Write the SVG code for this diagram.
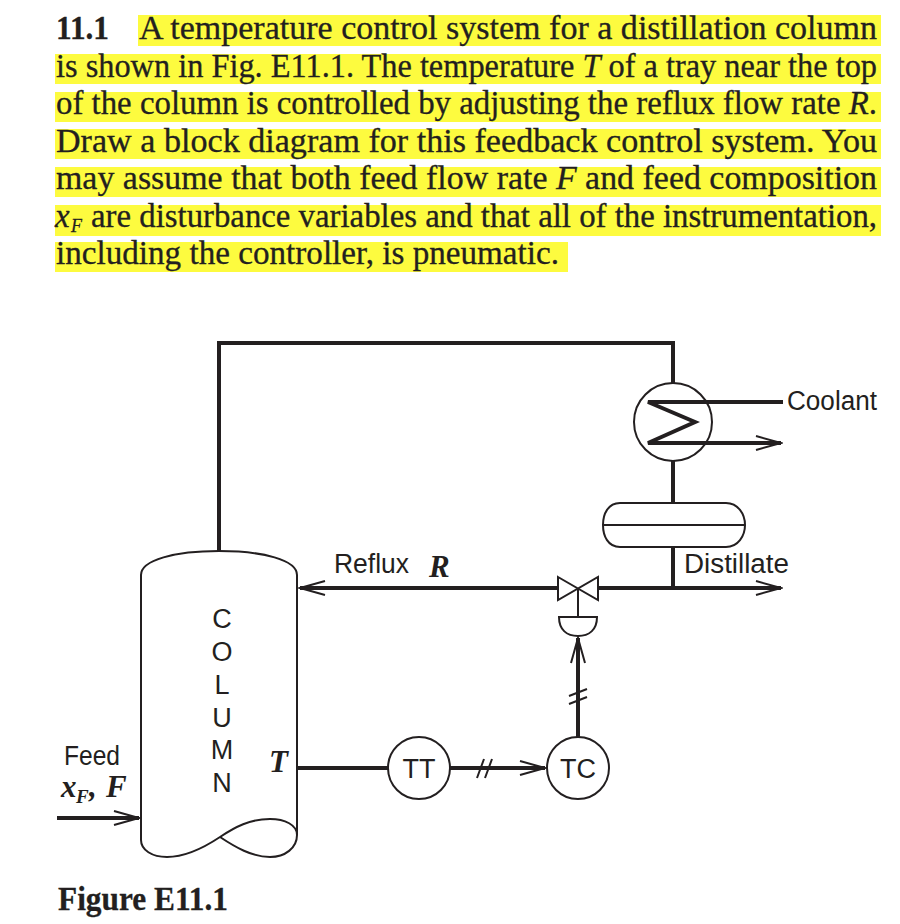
<svg xmlns="http://www.w3.org/2000/svg" width="900" height="924" viewBox="0 0 900 924">
<style>
.b{font-family:"Liberation Serif",serif;font-size:33px;fill:#231f20;stroke:#231f20;stroke-width:.3}
.i{font-style:italic}
.s{font-family:"Liberation Sans",sans-serif;font-size:27px;fill:#231f20}
.m{font-family:"Liberation Serif",serif;font-style:italic;font-weight:bold;font-size:31px;fill:#231f20}
.t{fill:none;stroke:#231f20;stroke-width:4}
.n{fill:#fff;stroke:#231f20;stroke-width:2}
.h{fill:none;stroke:#231f20;stroke-width:2}
.y{fill:#fdfb3f}
</style>
<defs>
<marker id="a" markerUnits="userSpaceOnUse" markerWidth="28" markerHeight="20" refX="26" refY="10" orient="auto"><path d="M1 3L26 10L1 17" fill="none" stroke="#231f20" stroke-width="2"/></marker>
</defs>
<rect width="900" height="924" fill="#fff"/>
<g id="problem">
<rect class="y" x="138" y="15" width="743" height="31"/>
<rect class="y" x="55" y="54" width="826" height="30"/>
<rect class="y" x="55" y="92" width="826" height="30"/>
<rect class="y" x="55" y="129" width="826" height="30"/>
<rect class="y" x="55" y="167" width="826" height="30"/>
<rect class="y" x="55" y="205" width="826" height="31"/>
<rect class="y" x="55" y="242" width="513" height="30"/>
<text class="b" x="56" y="39" font-weight="bold" textLength="53" lengthAdjust="spacingAndGlyphs">11.1</text>
<text class="b" x="139" y="39" textLength="738" lengthAdjust="spacingAndGlyphs">A temperature control system for a distillation column</text>
<text class="b" x="56" y="77" textLength="821" lengthAdjust="spacingAndGlyphs">is shown in Fig. E11.1. The temperature <tspan class="i">T</tspan> of a tray near the top</text>
<text class="b" x="56" y="114" textLength="821" lengthAdjust="spacingAndGlyphs">of the column is controlled by adjusting the reflux flow rate <tspan class="i">R</tspan>.</text>
<text class="b" x="56" y="152" textLength="821" lengthAdjust="spacingAndGlyphs">Draw a block diagram for this feedback control system. You</text>
<text class="b" x="56" y="189" textLength="821" lengthAdjust="spacingAndGlyphs">may assume that both feed flow rate <tspan class="i">F</tspan> and feed composition</text>
<text class="b i" x="55" y="227">x</text><text class="b i" x="71" y="232" style="font-size:18px">F</text>
<text class="b" x="91" y="227" textLength="786" lengthAdjust="spacingAndGlyphs">are disturbance variables and that all of the instrumentation,</text>
<text class="b" x="56" y="264" textLength="503" lengthAdjust="spacingAndGlyphs">including the controller, is pneumatic.</text>
</g>
<g id="connectors">
<path class="t" d="M219 552V343H673V384"/>
<path class="t" d="M673 461V503"/>
<path class="t" d="M673 547V588"/>
<path class="t" d="M783 402H648L695 422L648 443H781" marker-end="url(#a)"/>
<path class="t" d="M599 588H781" marker-end="url(#a)"/>
<path class="t" d="M557 588H300" marker-end="url(#a)"/>
<path class="t" d="M57 818H139" marker-end="url(#a)"/>
<path class="t" d="M297 768H388"/>
<path class="t" d="M450 768H545" marker-end="url(#a)"/>
<path class="t" d="M578 737V638" marker-end="url(#a)"/>
<path class="h" d="M477 778L484 759M485 778L492 759"/>
<path class="h" d="M569 696L587 689M569 704L587 697"/>
<path class="h" d="M578 588V617"/>
</g>
<g id="column">
<path class="n" d="M141 575C141 560 175 551 219 551C263 551 297 560 297 575V835C297 825 285 819 270 819C250 819 235 827 220 837C205 847 187 857 167 857C152 857 141 850 141 840Z"/>
<path class="h" d="M220 837C235 847 252 857 270 857C285 857 297 848 297 835"/>
<text class="s" text-anchor="middle" x="222" y="628">C</text>
<text class="s" text-anchor="middle" x="222" y="661">O</text>
<text class="s" text-anchor="middle" x="222" y="694">L</text>
<text class="s" text-anchor="middle" x="222" y="727">U</text>
<text class="s" text-anchor="middle" x="222" y="759">M</text>
<text class="s" text-anchor="middle" x="222" y="792">N</text>
<text class="m" x="269" y="772">T</text>
</g>
<g id="condenser">
<circle cx="673" cy="422" r="39" fill="none" stroke="#231f20" stroke-width="2"/>
</g>
<g id="drum">
<path class="n" d="M620 503H726C738 503 745 514 745 525C745 536 738 547 726 547H620C608 547 603 536 603 525C603 514 608 503 620 503Z"/>
<path class="h" d="M604 525H744"/>
</g>
<g id="valve">
<path class="n" d="M558 577L598 600V577L558 600Z"/>
<path class="n" d="M559 617H597C597 630 589 636 578 636C567 636 559 630 559 617Z"/>
</g>
<g id="TT"><circle class="n" cx="419" cy="768" r="31"/><text class="s" text-anchor="middle" x="419" y="778">TT</text></g>
<g id="TC"><circle class="n" cx="578" cy="768" r="31"/><text class="s" text-anchor="middle" x="578" y="778">TC</text></g>
<g id="labels">
<text class="s" x="787" y="410" textLength="90" lengthAdjust="spacingAndGlyphs">Coolant</text>
<text class="s" x="684" y="573" textLength="105" lengthAdjust="spacingAndGlyphs">Distillate</text>
<text class="s" x="334" y="573" textLength="75" lengthAdjust="spacingAndGlyphs">Reflux</text>
<text class="m" x="429" y="577">R</text>
<text class="s" x="64" y="765" textLength="56" lengthAdjust="spacingAndGlyphs">Feed</text>
<text class="m" x="61" y="797">x</text><text class="m" x="76" y="803" style="font-size:19px">F</text><text class="m" x="89" y="797">,</text><text class="m" x="106" y="797">F</text>
<text class="b" x="58" y="910" font-weight="bold" textLength="170" lengthAdjust="spacingAndGlyphs">Figure E11.1</text>
</g>
</svg>
